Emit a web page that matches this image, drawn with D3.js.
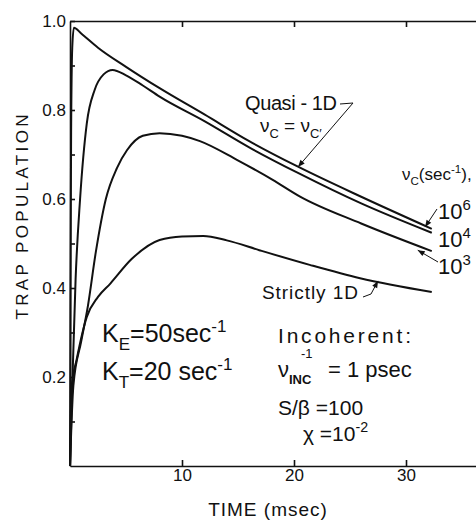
<!DOCTYPE html>
<html>
<head>
<meta charset="utf-8">
<script src="https://cdn.jsdelivr.net/npm/d3@7/dist/d3.min.js"></script>
<style>
body { margin: 0; background: #fff; }
svg { display: block; font-family: "Liberation Sans", "DejaVu Sans", sans-serif; fill: #111; }
.curve { fill: none; stroke: #111; stroke-width: 2; stroke-linejoin: round; }
.axis path, .axis line { stroke: #111; stroke-width: 1.6; }
.axis text { font-family: "Liberation Sans", sans-serif; font-size: 17px; fill: #111; }
.pointer { fill: none; stroke: #111; stroke-width: 1; }
</style>
</head>
<body>
<div id="chart"></div>
<script>

// time in msec, trap population (fraction)
var timeQuasi = [0, 0.04, 0.1, 0.2, 0.35, 1, 2.5, 5, 8, 12, 16, 20.4, 26, 32.3];
var popQuasi  = [0, 0.35, 0.75, 0.94, 0.985, 0.972, 0.94, 0.897, 0.849, 0.79, 0.73, 0.672, 0.605, 0.533];

var time1e4 = [0, 0.18, 0.5, 0.9, 1.5, 2.2, 3, 3.8, 5, 6.5, 8, 12, 16, 20.4, 26, 32.3];
var pop1e4  = [0, 0.16, 0.42, 0.6, 0.77, 0.845, 0.88, 0.89, 0.878, 0.855, 0.83, 0.775, 0.716, 0.658, 0.59, 0.524];

var time1e3 = [0, 0.3, 1, 1.6, 2.3, 3.2, 4.2, 5.1, 6.5, 8, 10, 11.6, 14.9, 18.1, 20.5, 26, 32.3];
var pop1e3  = [0, 0.18, 0.28, 0.36, 0.48, 0.6, 0.67, 0.71, 0.742, 0.748, 0.742, 0.73, 0.688, 0.643, 0.606, 0.545, 0.483];

var timeStrict = [0, 0.15, 0.6, 1.5, 2.5, 3.6, 5.5, 8, 10, 11.9, 14, 16.9, 21.4, 25.9, 32.3];
var popStrict  = [0, 0.18, 0.24, 0.335, 0.38, 0.41, 0.465, 0.508, 0.516, 0.517, 0.507, 0.485, 0.452, 0.422, 0.391];

var yTicks = [0.1, 0.2, 0.3, 0.4, 0.5, 0.6, 0.7, 0.8, 0.9, 1.0];
var yTickLabels = {"0.2": "0.2", "0.4": "0.4", "0.6": "0.6", "0.8": "0.8", "1": "1.0"};
var xTicks = [10, 20, 30];

var width = 476, height = 520;

var svg = d3.select("#chart").append("svg")
    .attr("width", width)
    .attr("height", height);

var x = d3.scaleLinear().domain([0, 36.25]).range([70, 476]);
var y = d3.scaleLinear().domain([0, 1]).range([466, 21]);

// frame: left, top, bottom
svg.append("g").attr("class", "axis")
    .attr("transform", "translate(70,0)")
    .call(d3.axisLeft(y).tickValues(yTicks).tickSizeInner(-5).tickSizeOuter(0).tickPadding(4)
          .tickFormat(function(d){ return yTickLabels[String(+d.toFixed(1))] || ""; }));

svg.append("g").attr("class", "axis")
    .attr("transform", "translate(0,466)")
    .call(d3.axisBottom(x).tickValues(xTicks).tickSizeInner(-6).tickSizeOuter(0).tickPadding(3)
          .tickFormat(d3.format("d")));

svg.append("g").attr("class", "axis")
    .attr("transform", "translate(0,21)")
    .call(d3.axisTop(x).tickValues(xTicks).tickSizeInner(-6).tickSizeOuter(0)
          .tickFormat(""));

// curves
var line = d3.line()
    .x(function(d){ return x(d[0]); })
    .y(function(d){ return y(d[1]); })
    .curve(d3.curveMonotoneX);

var series = [
    d3.zip(timeQuasi, popQuasi),
    d3.zip(time1e4, pop1e4),
    d3.zip(time1e3, pop1e3),
    d3.zip(timeStrict, popStrict)
];

svg.selectAll(".curve").data(series).enter()
    .append("path")
    .attr("class", "curve")
    .attr("d", line);

// arrow head
svg.append("defs").append("marker")
    .attr("id", "head")
    .attr("viewBox", "0 0 10 10")
    .attr("refX", 10).attr("refY", 5)
    .attr("markerWidth", 9).attr("markerHeight", 7)
    .attr("markerUnits", "userSpaceOnUse")
    .attr("orient", "auto")
  .append("path")
    .attr("d", "M0,1 L10,5 L0,9 Z")
    .style("fill", "#111");

function pointer(pts){
    svg.append("path")
        .attr("class", "pointer")
        .attr("marker-end", "url(#head)")
        .attr("d", d3.line()(pts));
}

// pointers aimed at curves in data units
pointer([[340, 104], [353, 103], [x(20.36), y(0.672)]]);
pointer([[437, 209], [x(31.7), y(0.537)]]);
pointer([[438, 262], [x(31.05), y(0.485)]]);
pointer([[363, 297], [371, 294], [x(27.5), y(0.416)]]);

// text helper with sub/superscripts
function rich(px, py, size, parts, len){
    var t = svg.append("text")
        .attr("x", px).attr("y", py)
        .style("font-size", size + "px");
    var off = 0;
    parts.forEach(function(p){
        var kind = p[1] || "";
        var target = kind == "sub" ? size * 0.32 : kind == "sup" ? -size * 0.42 : 0;
        t.append("tspan")
            .attr("dy", target - off)
            .style("font-size", (kind ? size * 0.68 : size) + "px")
            .text(p[0]);
        off = target;
    });
    if (len) t.attr("textLength", len).attr("lengthAdjust", "spacing");
    return t;
}

rich(245, 110, 20, [["Quasi - 1D"]], 92);
rich(260, 132, 19, [["\u03bd"], ["C", "sub"], [" = \u03bd"], ["C\u2032", "sub"]]);
rich(402, 180, 17, [["\u03bd"], ["C", "sub"], ["(sec"], ["-1", "sup"], ["),"]]);
rich(438, 219, 22, [["10"], ["6", "sup"]]);
rich(438, 247, 22, [["10"], ["4", "sup"]]);
rich(438, 274, 22, [["10"], ["3", "sup"]]);
rich(262, 299, 19, [["Strictly 1D"]], 96);

rich(102, 342, 25, [["K"], ["E", "sub"], ["=50sec"], ["-1", "sup"]]);
rich(102, 380, 25, [["K"], ["T", "sub"], ["=20 sec"], ["-1", "sup"]]);

rich(278, 343, 21, [["Incoherent:"]], 133);
rich(278, 377, 22, [["\u03bd"]]);
svg.append("text").attr("x", 289).attr("y", 384).style("font-size", "13px").style("font-weight", "bold").text("INC");
svg.append("text").attr("x", 301).attr("y", 358).style("font-size", "13px").text("-1");
rich(328, 377, 22, [["= 1 psec"]]);
rich(278, 415, 21, [["S/\u03b2 =100"]]);
rich(303, 441, 21, [["\u03c7 =10"], ["-2", "sup"]]);

// axis titles
svg.append("text")
    .attr("transform", "translate(28,217) rotate(-90)")
    .attr("text-anchor", "middle")
    .attr("textLength", 205)
    .attr("lengthAdjust", "spacing")
    .style("font-size", "17px")
    .text("TRAP  POPULATION");

svg.append("text")
    .attr("x", 268).attr("y", 516)
    .attr("text-anchor", "middle")
    .style("font-size", "19px")
    .style("letter-spacing", "1px")
    .text("TIME  (msec)");

</script>
</body>
</html>
